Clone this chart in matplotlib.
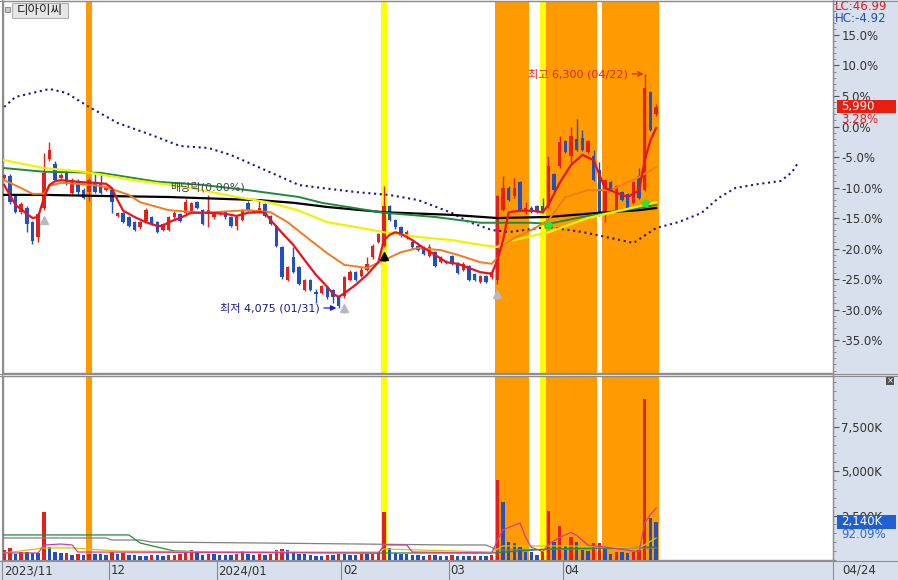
import matplotlib
matplotlib.use('Agg')
import matplotlib.pyplot as plt
import numpy as np
from matplotlib.patches import Rectangle
from matplotlib.lines import Line2D

plt.rcParams['font.family'] = ['DejaVu Sans', 'Noto Sans CJK KR']

W, H = 898, 580
BASE = 5800  # 0% reference price

# daily candles 2023-11-06 .. 2024-04-24
opens = [5315, 5325, 5150, 4990, 5030, 4890, 4745, 5030, 5490, 5440,
         5315, 5370, 5170, 5285, 5200, 5180, 5270, 5250, 5200, 5200,
         4945, 4980, 4935, 4890, 4840, 4900, 4935, 4890, 4820, 4820,
         4935, 4965, 4980, 4990, 5085, 5010, 4965, 4935, 4965, 4990,
         4935, 4850, 4915, 5075, 4985, 4990, 5060, 4945, 4850, 4650,
         4345, 4555, 4460, 4250, 4345, 4230, 4220, 4270, 4250, 4185,
         4185, 4345, 4420, 4375, 4440, 4555, 4705, 4660, 5040, 4915,
         4840, 4745, 4705, 4660, 4650, 4565, 4610, 4515, 4515, 4565,
         4505, 4440, 4470, 4395, 4325, 4375, 4365, 4345, 5010, 5220,
         5135, 5270, 4990, 5030, 5040, 5040, 5040, 5345, 5420, 5660,
         5515, 5680, 5695, 5555, 5515, 5390, 4985, 5270, 5010, 5180,
         5155, 5075, 5325, 5200, 6125, 5915]
highs = [5345, 5345, 5160, 5080, 5040, 4900, 4980, 5545, 5650, 5470,
         5360, 5390, 5310, 5300, 5215, 5310, 5370, 5350, 5230, 5210,
         4990, 4990, 4945, 4900, 4900, 5030, 4945, 4900, 4880, 4950,
         4995, 4975, 5110, 5085, 5095, 5020, 5150, 4990, 5000, 5000,
         4945, 4945, 5020, 5090, 5010, 5110, 5075, 4955, 4860, 4660,
         4470, 4650, 4470, 4355, 4355, 4260, 4290, 4280, 4260, 4200,
         4375, 4440, 4430, 4460, 4560, 4680, 4790, 5230, 5050, 4925,
         4850, 4820, 4715, 4670, 4660, 4680, 4620, 4565, 4530, 4580,
         4515, 4510, 4480, 4405, 4385, 4385, 4440, 5150, 5325, 5230,
         5315, 5280, 5080, 5040, 5050, 5125, 5515, 5355, 5705, 5670,
         5800, 5870, 5770, 5670, 5580, 5460, 5305, 5280, 5240, 5190,
         5165, 5280, 5410, 6300, 6135, 6010]
lows = [5305, 5060, 4980, 4970, 4800, 4680, 4700, 5010, 5470, 5280,
        5300, 5240, 5160, 5160, 5110, 5090, 5170, 5160, 5190, 4980,
        4935, 4880, 4840, 4810, 4830, 4890, 4860, 4790, 4810, 4810,
        4925, 4890, 4970, 4980, 5020, 4860, 4840, 4925, 4955, 4925,
        4840, 4820, 4900, 5000, 4975, 4980, 4935, 4860, 4650, 4350,
        4330, 4410, 4290, 4240, 4240, 4125, 4210, 4160, 4120, 4075,
        4170, 4330, 4335, 4365, 4430, 4545, 4695, 4650, 4905, 4830,
        4745, 4735, 4640, 4620, 4575, 4555, 4460, 4505, 4490, 4480,
        4400, 4430, 4335, 4335, 4315, 4315, 4355, 4300, 5000, 5095,
        5120, 5000, 4970, 4980, 4980, 4975, 5030, 5190, 5410, 5545,
        5440, 5570, 5570, 5545, 5285, 4945, 4890, 5190, 5000, 5095,
        5000, 5065, 5115, 5190, 5760, 5900]
closes = [5335, 5085, 4990, 5060, 4870, 4710, 4965, 5360, 5580, 5295,
          5340, 5250, 5295, 5175, 5125, 5295, 5180, 5170, 5220, 5080,
          4980, 4890, 4850, 4820, 4890, 5010, 4870, 4800, 4870, 4935,
          4980, 4900, 5085, 5075, 5030, 4870, 5010, 4980, 4990, 4935,
          4850, 4935, 5010, 5010, 4995, 5030, 4945, 4870, 4660, 4365,
          4460, 4420, 4300, 4345, 4250, 4210, 4280, 4175, 4175, 4090,
          4365, 4420, 4345, 4440, 4490, 4660, 4775, 5040, 4915, 4840,
          4755, 4795, 4650, 4630, 4585, 4650, 4470, 4555, 4500, 4490,
          4410, 4490, 4345, 4345, 4375, 4325, 4420, 5135, 5220, 5105,
          5220, 5010, 5030, 4990, 4990, 4985, 5420, 5200, 5650, 5555,
          5705, 5580, 5580, 5660, 5295, 4990, 5295, 5200, 5230, 5105,
          5010, 5270, 5125, 6170, 5770, 5990]
volume = [560, 680, 340, 450, 450, 420, 390, 2700, 730, 450,
          390, 420, 280, 340, 300, 340, 340, 310, 280, 450,
          340, 390, 300, 280, 250, 250, 280, 280, 230, 280,
          300, 310, 420, 560, 450, 280, 340, 310, 300, 280,
          280, 340, 500, 340, 280, 310, 280, 340, 560, 620,
          560, 400, 340, 310, 280, 250, 250, 280, 280, 340,
          340, 300, 280, 340, 310, 340, 450, 2700, 670, 390,
          340, 310, 280, 280, 250, 280, 280, 250, 230, 280,
          250, 250, 230, 250, 230, 230, 280, 4500, 3270, 1000,
          950, 730, 450, 450, 280, 450, 2760, 1000, 1900, 790,
          1300, 1000, 560, 510, 950, 960, 670, 340, 450, 450,
          390, 450, 560, 9060, 2360, 2140]  # thousand shares

# month boundaries (index of first trading day) and labels
month_start = [0, 19, 38, 60, 79, 99]
month_label = ['2023/11', '12', '2024/01', '02', '03', '04']
high_date, low_date = '04/22', '01/31'

# highlighted days
orange_days = [15, 87, 88, 89, 90, 91, 92, 96, 97, 98, 99, 100, 101, 102, 103, 104,
               106, 107, 108, 109, 110, 111, 112, 113, 114, 115]
yellow_days = [67, 95]

# moving averages (sampled)
ma5_x = [0, 2, 4, 5, 6, 7, 8, 9, 10, 12, 14, 16, 18, 19, 20, 21, 23, 25, 27, 28, 29, 31, 33,
         36, 39, 41, 43, 45, 46, 47, 49, 51, 53, 55, 57, 58, 59, 60, 62, 64, 66, 67, 68, 69, 70,
         72, 74, 76, 78, 80, 82, 84, 86, 87, 88, 89, 91, 93, 95, 96, 98, 100, 102, 104, 105, 106,
         108, 110, 112, 113, 114, 115]
ma5_y = [5245, 5055, 4970, 4930, 4940, 5120, 5245, 5280, 5290, 5280, 5270, 5265, 5255, 5215,
         5100, 5000, 4940, 4890, 4855, 4855, 4890, 4930, 4980, 4980, 4970, 4950, 4980, 4985,
         4980, 4910, 4790, 4675, 4530, 4390, 4275, 4210, 4180, 4215, 4295, 4390, 4510, 4720,
         4770, 4795, 4780, 4720, 4645, 4580, 4510, 4495, 4455, 4415, 4400, 4530, 4720, 4985,
         5000, 5000, 4985, 5055, 5265, 5435, 5530, 5480, 5340, 5215, 5170, 5130, 5195, 5480,
         5670, 5785]
ma20_x = [0, 3, 5, 7, 8, 10, 13, 17, 19, 22, 24, 29, 35, 43, 47, 50, 54, 57, 60, 64, 67, 70,
          73, 77, 80, 84, 86, 87, 88, 90, 93, 96, 99, 103, 107, 112, 115]
ma20_y = [5290, 5215, 5160, 5160, 5235, 5265, 5255, 5235, 5205, 5150, 5080, 5005, 4980, 5005,
          4985, 4890, 4720, 4595, 4485, 4455, 4530, 4605, 4645, 4625, 4580, 4510, 4495, 4550,
          4675, 4740, 4815, 4910, 5130, 5195, 5195, 5320, 5415]
ma60_x = [0, 7, 14, 23, 32, 40, 47, 52, 57, 62, 67, 73, 79, 84, 87, 89, 96, 103, 109, 115]
ma60_y = [5480, 5405, 5370, 5290, 5225, 5140, 5075, 5000, 4890, 4845, 4795, 4750, 4720, 4675,
          4655, 4710, 4795, 4930, 5005, 5080]
ma120_x = [0, 7, 17, 27, 35, 43, 52, 56, 67, 76, 84, 93, 96, 102, 107, 112, 115]
ma120_y = [5405, 5370, 5360, 5275, 5245, 5195, 5130, 5075, 4980, 4940, 4885, 4885, 4875, 4940,
           4985, 5025, 5055]
ma240_x = [0, 7, 17, 29, 45, 51, 57, 67, 79, 87, 96, 105, 112, 115]
ma240_y = [5150, 5150, 5140, 5130, 5100, 5075, 5035, 4985, 4960, 4930, 4940, 4980, 5005, 5025]
span_x = [0, 2, 8, 11, 15, 20, 26, 31, 36, 40, 46, 52, 56, 62, 68, 73, 79, 82, 86, 89, 96, 102,
          107, 111, 115, 119, 123, 126, 129, 133, 137, 139, 140]
span_y = [5986, 6081, 6157, 6119, 5986, 5834, 5719, 5615, 5596, 5529, 5387, 5244, 5216, 5177,
          5149, 5101, 4978, 4892, 4816, 4797, 4845, 4797, 4740, 4693, 4835, 4892, 4978, 5120,
          5216, 5253, 5282, 5368, 5453]

# volume averages (sampled, thousand shares)
vma5_x = [0, 6, 7, 10, 12, 13, 66, 67, 71, 72, 86, 87, 88, 91, 92, 93, 95, 96, 98, 100, 101,
          103, 106, 112, 113, 114, 115]
vma5_y = [395, 395, 845, 900, 845, 450, 395, 845, 845, 450, 395, 1100, 1700, 2090, 1280, 720,
          470, 880, 1280, 1550, 1390, 830, 730, 460, 2090, 2560, 2920]
vma20_x = [0, 7, 12, 20, 40, 66, 67, 86, 88, 100, 112, 115]
vma20_y = [395, 675, 675, 505, 450, 450, 620, 450, 790, 790, 675, 1240]
vma60_x = [0, 22, 24, 27, 30, 37, 66, 86, 96, 115]
vma60_y = [1410, 1410, 955, 730, 510, 450, 395, 395, 620, 730]
vma120_x = [0, 18, 19, 24, 26, 46, 79, 85, 87, 115]
vma120_y = [1240, 1240, 1125, 1125, 1010, 955, 845, 845, 560, 675]

buy_marks = [7, 60, 87]
up_marks = [67]
cross_x = [96, 113]
cross_y = [4865, 5075]

RED = '#E4201C'
BLUE = '#2150C4'
ORANGE = '#FF9A00'
YELLOW = '#FFFF00'
PANEL = '#D7E0EC'
GRID = '#8E8E8E'


def box(x0, y0, x1, y1):
    return [x0 / W, 1 - y1 / H, (x1 - x0) / W, (y1 - y0) / H]


def fig_xy(x, y):
    return x / W, 1 - y / H


fig = plt.figure(figsize=(W / 100, H / 100), dpi=100)
fig.patch.set_facecolor('white')

# right axis panel and bottom date strip
fig.add_artist(Rectangle((833 / W, 0), 65 / W, 1, transform=fig.transFigure,
                         facecolor=PANEL, edgecolor='none', zorder=-5))
fig.add_artist(Rectangle((0, 0), 1, 20 / H, transform=fig.transFigure,
                         facecolor=PANEL, edgecolor='none', zorder=-5))

ax = fig.add_axes(box(3, 1, 833, 373))
axv = fig.add_axes(box(3, 376, 833, 560))

n = len(closes)
x = np.arange(n)
o = np.array(opens)
c = np.array(closes)
cols = [RED if cc >= oo else BLUE for oo, cc in zip(opens, closes)]

for a in (ax, axv):
    for d in orange_days:
        a.axvspan(d - 0.5, d + 0.5, color=ORANGE, lw=0, zorder=0)
    for d in yellow_days:
        a.axvspan(d - 0.5, d + 0.5, color=YELLOW, lw=0, zorder=0)
    a.set_xlim(-0.2, 146.2)
    a.set_xticks([])
    for s in a.spines.values():
        s.set_color(GRID)
        s.set_linewidth(1)

# price panel
ax.plot(span_x, span_y, color='#1A1A8C', lw=1.5, linestyle=(0, (1, 1.75)), zorder=2)
ax.vlines(x, lows, highs, colors=cols, lw=1, zorder=3)
ax.bar(x, np.maximum(np.abs(c - o), 8), bottom=np.minimum(o, c), width=0.6,
       color=cols, lw=0, zorder=3)
ax.plot(ma240_x, ma240_y, color='#000000', lw=1.6, zorder=4)
ax.plot(ma120_x, ma120_y, color='#1E8A3A', lw=1.4, zorder=4)
ax.plot(ma60_x, ma60_y, color='#F2F200', lw=1.6, zorder=4)
ax.plot(ma20_x, ma20_y, color='#F57A1E', lw=1.4, zorder=4)
ax.plot(ma5_x, ma5_y, color='#E8141B', lw=1.6, zorder=5)

low_arr = np.array(lows)
for i in buy_marks:
    ax.vlines(i, low_arr[i] - 140, low_arr[i] - 95, color='#B8B8C0', lw=2, zorder=6)
    ax.plot(i, low_arr[i] - 95, marker='^', ms=5.5, color='#B8B8C0', zorder=6)
for i in up_marks:
    ax.vlines(i, low_arr[i] - 130, low_arr[i] - 80, color='black', lw=2, zorder=6)
    ax.plot(i, low_arr[i] - 80, marker='^', ms=6, color='black', zorder=6)
ax.plot(cross_x, cross_y, 'p', ms=6, color='#33E033', zorder=6)

ih = int(np.argmax(highs))
il = int(np.argmin(lows))
ax.annotate(f'최고 {highs[ih]:,} ({high_date})', xy=(ih, highs[ih]), xytext=(-12, 0),
            textcoords='offset points', ha='right', va='center', fontsize=8, color=RED,
            arrowprops=dict(arrowstyle='->', color=RED, lw=0.9, shrinkA=1, shrinkB=1), zorder=7)
ax.annotate(f'최저 {lows[il]:,} ({low_date})', xy=(il - 0.4, lows[il]), xytext=(-12, 0),
            textcoords='offset points', ha='right', va='center', fontsize=8, color='#1A1A8C',
            arrowprops=dict(arrowstyle='-|>', color='#1A1AE0', lw=0.9, shrinkA=1, shrinkB=0,
                            mutation_scale=8), zorder=7)
ax.text(29.3, 5225, '배당락(0.00%)', fontsize=8, color='#444444', va='center', zorder=7)

pct = list(range(15, -40, -5))
ax.set_ylim(BASE * (1 - 0.404), BASE * (1 + 0.2057))
ax.set_yticks([BASE * (1 + p / 100) for p in pct])
ax.set_yticklabels([f'{p:.1f}%' for p in pct])
ax.set_yticks([BASE * (1 + p / 100) for p in range(-40, 21)], minor=True)
ax.yaxis.tick_right()
ax.tick_params(axis='y', which='major', direction='out', length=4, width=0.8, color='#555555',
               labelsize=8.5, labelcolor='#333333', pad=2)
ax.tick_params(axis='y', which='minor', direction='out', length=2, width=0.6, color='#777777')

# price tag
tr = ax.get_yaxis_transform()
last = closes[-1]
ax.add_patch(Rectangle((1.0048, last - 62), 0.0711, 124, transform=tr, facecolor='#E81E10',
                       edgecolor='none', clip_on=False, zorder=8))
ax.text(1.0095, last, f'{last:,}', transform=tr, color='white', fontsize=8.5, va='center',
        ha='left', clip_on=False, zorder=9)
ax.text(1.0095, last - 125, f'{(last / BASE - 1) * 100:.2f}%', transform=tr, color=RED,
        fontsize=8.5, va='center', ha='left', clip_on=False, zorder=9)

# volume panel
vcols = [RED] + [RED if volume[i] > volume[i - 1] else BLUE for i in range(1, n)]
axv.bar(x, volume, width=0.6, color=vcols, lw=0, zorder=3)
axv.plot(vma120_x, vma120_y, color='#808080', lw=0.9, zorder=4)
axv.plot(vma60_x, vma60_y, color='#1E8A3A', lw=0.9, zorder=4)
axv.plot(vma20_x, vma20_y, color='#D8C400', lw=0.9, zorder=4)
axv.plot(vma5_x, vma5_y, color='#D23C9E', lw=0.9, zorder=4)
axv.set_ylim(0, 10360)
vt = [2500, 5000, 7500]
axv.set_yticks(vt)
axv.set_yticklabels([f'{v:,}K' for v in vt])
axv.set_yticks(range(0, 10001, 500), minor=True)
axv.yaxis.tick_right()
axv.tick_params(axis='y', which='major', direction='out', length=4, width=0.8, color='#555555',
                labelsize=8.5, labelcolor='#333333', pad=2)
axv.tick_params(axis='y', which='minor', direction='out', length=2, width=0.6, color='#777777')

trv = axv.get_yaxis_transform()
lv = volume[-1]
axv.add_patch(Rectangle((1.0048, lv - 380), 0.0711, 760, transform=trv, facecolor='#1F5FD0',
                        edgecolor='none', clip_on=False, zorder=8))
axv.text(1.0095, lv, f'{lv:,}K', transform=trv, color='white', fontsize=8.5, va='center',
         ha='left', clip_on=False, zorder=9)
axv.text(1.0095, lv - 720, '92.09%', transform=trv, color='#2A6AD8', fontsize=8.5,
         va='center', ha='left', clip_on=False, zorder=9)

# date strip
axd = fig.add_axes(box(3, 561, 833, 580))
axd.set_xlim(-0.2, 146.2)
axd.set_ylim(0, 1)
axd.axis('off')
for k, (m, lab) in enumerate(zip(month_start, month_label)):
    sep = m - 0.5
    if k > 0:
        axd.axvline(sep, color='#888888', lw=0.8)
    axd.text(max(sep, -0.2) + 0.25, 0.5, lab, fontsize=8.5, color='#333333', va='center', ha='left')
fig.text(*fig_xy(842, 570), '04/24', fontsize=8.5, color='#333333', va='center', ha='left')

# frame lines
for xs, ys in [((1.5, 1.5), (0, 580)), ((833, 833), (0, 580)), ((0, 898), (373.5, 373.5)),
               ((0, 898), (375.5, 375.5)), ((0, 898), (560.5, 560.5)), ((0, 898), (0.5, 0.5))]:
    fig.add_artist(Line2D([v / W for v in xs], [1 - v / H for v in ys], color=GRID, lw=0.8,
                          transform=fig.transFigure))

# title box
fig.add_artist(Rectangle(fig_xy(5, 12), 5 / W, 5 / H, transform=fig.transFigure,
                         facecolor='#C8C8C8', edgecolor='#808080', lw=0.6))
fig.add_artist(Rectangle(fig_xy(12, 18), 56 / W, 15 / H, transform=fig.transFigure,
                         facecolor='#E6E6E6', edgecolor='#B0B0B0', lw=0.8))
fig.text(*fig_xy(40, 10.5), '디아이씨', fontsize=9, color='#222222', ha='center', va='center')

# LC / HC
fig.text(*fig_xy(835, 7), 'LC:46.99', fontsize=8.5, color='#D62020', va='center', ha='left')
fig.text(*fig_xy(835, 19), 'HC:-4.92', fontsize=8.5, color='#2050B0', va='center', ha='left')

# close button of the volume panel
fig.add_artist(Rectangle(fig_xy(886, 385), 8 / W, 8 / H, transform=fig.transFigure,
                         facecolor='#505050', edgecolor='none'))
fig.text(*fig_xy(890, 381), '×', fontsize=6, color='white', ha='center', va='center')

fig.savefig('out.png', dpi=100, facecolor='white')
